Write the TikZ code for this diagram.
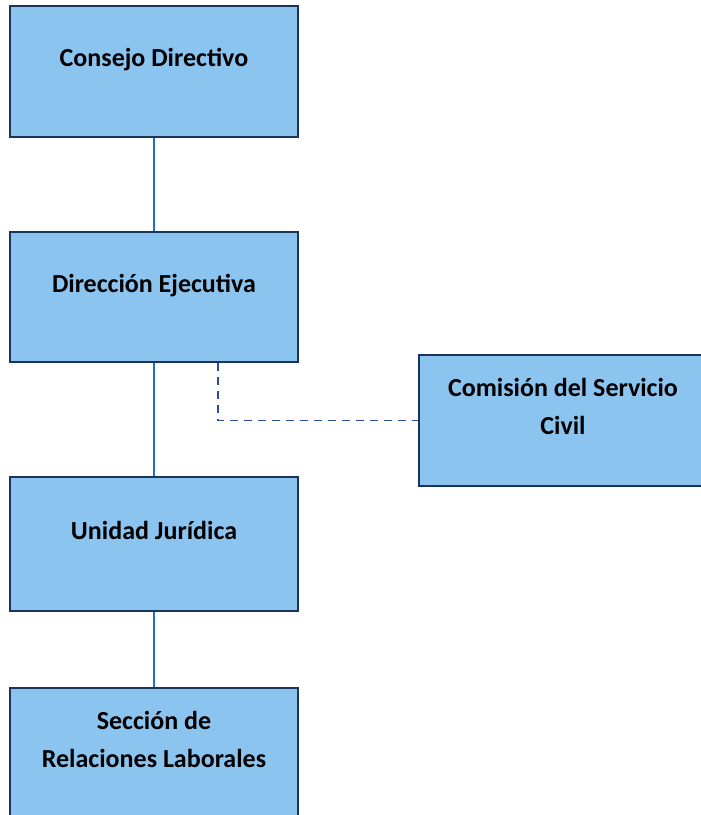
\documentclass[tikz,border=0pt]{standalone}
\usepackage{fontspec}
\setmainfont{Carlito}
\usepackage{tikz}
\usetikzlibrary{calc}
\definecolor{boxfill}{RGB}{140,196,240}
\definecolor{boxline}{RGB}{28,52,90}
\definecolor{linkblue}{RGB}{30,110,210}
\definecolor{dashblue}{RGB}{40,80,150}
\tikzset{unitbox/.style={draw=boxline, line width=1.5pt, fill=boxfill, minimum width=288pt, inner sep=0pt, font=\bfseries\fontsize{26}{38}\selectfont}}
\tikzset{link/.style={draw=linkblue, line width=1.5pt}}
\tikzset{dashlink/.style={draw=dashblue, line width=1.3pt, dash pattern=on 8pt off 6pt}}
\newcommand{\orgbox}[5]{\node[unitbox, minimum height=#4] (#1) at ( #2 , #3 ) {\raisebox{6pt}[0pt][0pt]{\begin{tabular}{@{}c@{}}#5\end{tabular}}};}

\begin{document}
\begin{tikzpicture}[x=1pt, y=-1pt]
        \useasboundingbox ( 0 , 0 ) rectangle ( 701 , 815 );
        % column
        \orgbox{cd}{154}{71.5}{131pt}{Consejo Directivo}
        \orgbox{de}{154}{297}{130pt}{Dirección Ejecutiva}
        \orgbox{uj}{154}{544}{134pt}{Unidad Jurídica}
        \orgbox{srl}{154}{753.5}{131pt}{Sección de\\Relaciones Laborales}
        % side
        \orgbox{csc}{563}{420.5}{131pt}{Comisión del Servicio\\Civil}

        % lines
        \draw[link] (cd.south) -- (de.north);
        \draw[link] (de.south) -- (uj.north);
        \draw[link] (uj.south) -- (srl.north);
        \draw[dashlink] ([xshift=64pt]de.south) |- (csc.west);
    \end{tikzpicture}
\end{document}
